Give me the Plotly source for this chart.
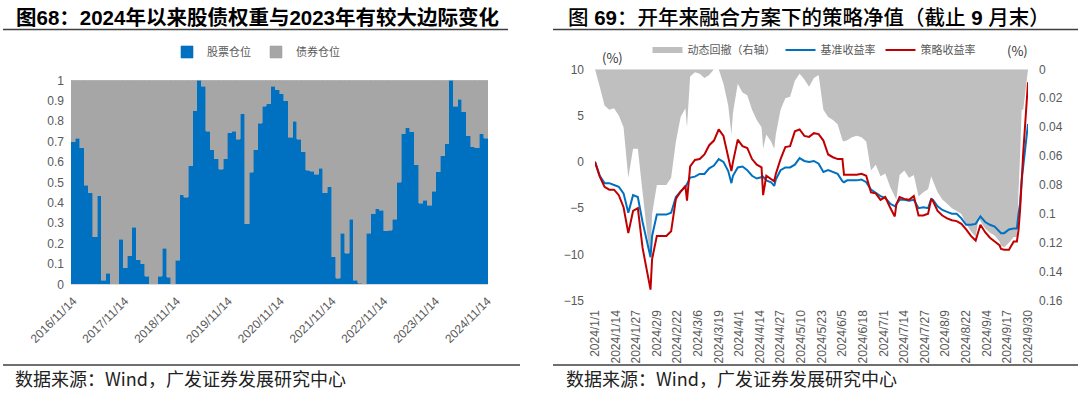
import plotly.graph_objects as go

# ---------------- Left chart data (monthly positions) ----------------
stock_pos = [
    0.70, 0.716, 0.67, 0.485, 0.45, 0.234, 0.435, 0.02, 0.054, 0, 0, 0.22,
    0.08, 0.14, 0.28, 0.12, 0.10, 0.04, 0, 0, 0.04, 0.176, 0.035, 0,
    0.118, 0.44, 0.426, 0.58, 0.85, 1.0, 0.97, 0.75, 0.66, 0.616, 0.564, 0.616,
    0.743, 0.75, 0.71, 0.835, 0.297, 0.55, 0.66, 0.79, 0.874, 0.886, 0.97, 0.953,
    0.935, 0.90, 0.72, 0.80, 0.71, 0.65, 0.56, 0.554, 0.54, 0.57, 0.45, 0.477,
    0.136, 0.03, 0.25, 0.152, 0.32, 0.02, 0.005, 0, 0.25, 0.345, 0.37, 0.364,
    0.263, 0.266, 0.32, 0.50, 0.737, 0.768, 0.747, 0.585, 0.397, 0.413, 0.387, 0.457,
    0.552, 0.63, 0.69, 1.0, 0.874, 0.907, 0.845, 0.727, 0.675, 0.67, 0.737, 0.716,
]
bond_pos = [
    0.30, 0.284, 0.33, 0.515, 0.55, 0.766, 0.565, 0.98, 0.946, 1, 1, 0.78,
    0.92, 0.86, 0.72, 0.88, 0.90, 0.96, 1, 1, 0.96, 0.824, 0.965, 1,
    0.882, 0.56, 0.574, 0.42, 0.15, 0.0, 0.03, 0.25, 0.34, 0.384, 0.436, 0.384,
    0.257, 0.25, 0.29, 0.165, 0.703, 0.45, 0.34, 0.21, 0.126, 0.114, 0.03, 0.047,
    0.065, 0.10, 0.28, 0.20, 0.29, 0.35, 0.44, 0.446, 0.46, 0.43, 0.55, 0.523,
    0.864, 0.97, 0.75, 0.848, 0.68, 0.98, 0.995, 1, 0.75, 0.655, 0.63, 0.636,
    0.737, 0.734, 0.68, 0.50, 0.263, 0.232, 0.253, 0.415, 0.603, 0.587, 0.613, 0.543,
    0.448, 0.37, 0.31, 0.0, 0.126, 0.093, 0.155, 0.273, 0.325, 0.33, 0.263, 0.284,
]
left_tick_labels = ["2016/11/14", "2017/11/14", "2018/11/14", "2019/11/14", "2020/11/14",
                    "2021/11/14", "2022/11/14", "2023/11/14", "2024/11/14"]
left_y_ticks = [0, 0.1, 0.2, 0.3, 0.4, 0.5, 0.6, 0.7, 0.8, 0.9, 1]
left_y_text = ["0", "0.1", "0.2", "0.3", "0.4", "0.5", "0.6", "0.7", "0.8", "0.9", "1"]

# ---------------- Right chart data (2024 YTD) ----------------
dates = [
    "2024-01-01", "2024-01-04", "2024-01-07", "2024-01-10", "2024-01-13", "2024-01-16", "2024-01-19",
    "2024-01-22", "2024-01-25", "2024-01-28", "2024-01-31",
    "2024-02-03", "2024-02-05", "2024-02-06", "2024-02-09", "2024-02-12", "2024-02-15", "2024-02-18",
    "2024-02-21", "2024-02-24", "2024-02-27", "2024-02-28",
    "2024-03-01", "2024-03-04", "2024-03-07", "2024-03-10", "2024-03-13", "2024-03-16", "2024-03-19",
    "2024-03-22", "2024-03-25", "2024-03-27", "2024-03-28", "2024-03-31",
    "2024-04-03", "2024-04-06", "2024-04-09", "2024-04-12", "2024-04-15", "2024-04-16", "2024-04-18",
    "2024-04-21", "2024-04-23", "2024-04-24", "2024-04-27", "2024-04-30",
    "2024-05-03", "2024-05-06", "2024-05-09", "2024-05-12", "2024-05-15", "2024-05-18", "2024-05-21",
    "2024-05-24", "2024-05-27", "2024-05-30",
    "2024-06-02", "2024-06-05", "2024-06-06", "2024-06-08", "2024-06-11", "2024-06-14", "2024-06-17",
    "2024-06-20", "2024-06-23", "2024-06-26", "2024-06-29",
    "2024-07-02", "2024-07-05", "2024-07-08", "2024-07-09", "2024-07-11", "2024-07-14", "2024-07-17",
    "2024-07-20", "2024-07-23", "2024-07-26", "2024-07-29", "2024-07-31",
    "2024-08-01", "2024-08-04", "2024-08-07", "2024-08-10", "2024-08-13", "2024-08-16", "2024-08-19",
    "2024-08-22", "2024-08-25", "2024-08-28", "2024-08-30", "2024-08-31",
    "2024-09-03", "2024-09-06", "2024-09-09", "2024-09-12", "2024-09-13", "2024-09-15", "2024-09-18",
    "2024-09-21", "2024-09-23", "2024-09-24", "2024-09-25", "2024-09-26", "2024-09-27", "2024-09-30",
]
benchmark = [
    0, -1.5, -2.3, -2.3, -2.5, -2.7, -3.4, -5.5, -3.6, -3.8, -6.5,
    -8.6, -10.3, -8.0, -5.7, -5.7, -5.7, -5.5, -3.8, -3.2, -2.7, -2.4,
    -1.7, -1.6, -1.3, -1.3, -0.7, -0.4, 0.3, 0.0, -1.0, -2.3, -1.5, -0.6,
    -0.5, -0.9, -1.5, -1.8, -1.7, -1.6, -2.0, -2.2, -2.6, -1.9, -0.9, -0.6,
    -0.6, -0.3, 0.4, 0.1, 0.0, 0.1, -0.2, -1.1, -0.9, -1.1,
    -1.3, -2.1, -2.2, -2.0, -2.0, -2.0, -1.9, -2.2, -3.0, -3.4, -3.7,
    -3.9, -4.5, -4.8, -4.6, -4.1, -4.1, -4.2, -4.1, -5.0, -4.9, -5.0, -4.0,
    -4.1, -4.8, -5.2, -5.4, -5.6, -5.6, -6.1, -6.8, -6.8, -6.7, -6.2, -5.9,
    -6.5, -6.8, -7.0, -7.5, -7.7, -7.7, -7.3, -7.2, -7.2, -5.6, -4.5, -2.0, -0.3, 4.1,
]
strategy = [
    0, -1.6, -2.7, -3.0, -3.0, -3.6, -4.9, -7.7, -5.3, -5.0, -9.3,
    -12.2, -13.8, -10.5, -8.0, -8.0, -8.0, -7.5, -4.0, -3.2, -2.6, -4.2,
    -0.5, 0.2, 0.3, 0.8, 1.8, 2.3, 3.5, 2.8, 0.5, -1.0, 0.0, 2.4,
    1.7, 1.5, 0.3, -0.3, -0.6, -3.6, -1.5, -1.9, -2.1, -1.3, 0.3, 1.6,
    1.7, 3.3, 3.5, 2.8, 2.7, 3.1, 3.0, 2.3, 0.8, 0.5,
    0.3, 0.3, -1.4, -1.4, -1.4, -1.4, -1.3, -1.5, -3.3, -3.4, -4.1,
    -3.8, -4.9, -5.9, -4.6, -3.8, -4.0, -4.1, -3.7, -5.8, -5.8, -5.6, -4.0,
    -4.2, -5.3, -5.8, -6.1, -6.3, -6.4, -6.7, -7.3, -8.0, -8.5, -7.2, -6.8,
    -7.6, -8.2, -8.6, -9.0, -9.4, -9.5, -9.5, -8.6, -8.6, -7.4, -5.2, -2.0, 1.0, 8.6,
]
drawdown = [
    0, 0.012, 0.025, 0.028, 0.027, 0.032, 0.04, 0.075, 0.055, 0.055, 0.085,
    0.115, 0.13, 0.1, 0.08, 0.08, 0.08, 0.075, 0.05, 0.033, 0.027, 0.04,
    0.005, 0.002, 0.003, 0.006, 0.004, 0.0, 0.0, 0.01, 0.025, 0.045, 0.03, 0.01,
    0.016, 0.018, 0.028, 0.035, 0.04, 0.055, 0.045, 0.05, 0.055, 0.045, 0.028, 0.02,
    0.019, 0.008, 0.003, 0.007, 0.012, 0.006, 0.004, 0.028, 0.033, 0.035,
    0.038, 0.049, 0.05, 0.049, 0.047, 0.046, 0.047, 0.05, 0.07, 0.066, 0.074,
    0.072, 0.081, 0.088, 0.09, 0.073, 0.07, 0.075, 0.073, 0.088, 0.085, 0.083, 0.074,
    0.077, 0.085, 0.09, 0.093, 0.096, 0.098, 0.1, 0.107, 0.112, 0.116, 0.102, 0.105,
    0.11, 0.113, 0.115, 0.119, 0.122, 0.123, 0.12, 0.116, 0.116, 0.085, 0.06, 0.028, 0.028, 0.0,
]
right_tick_vals = [
    "2024-01-01", "2024-01-14", "2024-01-27", "2024-02-09", "2024-02-22", "2024-03-06",
    "2024-03-19", "2024-04-01", "2024-04-14", "2024-04-27", "2024-05-10", "2024-05-23",
    "2024-06-05", "2024-06-18", "2024-07-01", "2024-07-14", "2024-07-27", "2024-08-09",
    "2024-08-22", "2024-09-04", "2024-09-17", "2024-09-30",
]
right_tick_text = [
    "2024/1/1", "2024/1/14", "2024/1/27", "2024/2/9", "2024/2/22", "2024/3/6",
    "2024/3/19", "2024/4/1", "2024/4/14", "2024/4/27", "2024/5/10", "2024/5/23",
    "2024/6/5", "2024/6/18", "2024/7/1", "2024/7/14", "2024/7/27", "2024/8/9",
    "2024/8/22", "2024/9/4", "2024/9/17", "2024/9/30",
]
ret_ticks = [-15, -10, -5, 0, 5, 10]
dd_ticks = [0, 0.02, 0.04, 0.06, 0.08, 0.1, 0.12, 0.14, 0.16]
dd_tick_text = ["0", "0.02", "0.04", "0.06", "0.08", "0.1", "0.12", "0.14", "0.16"]

# ---------------- Figure ----------------
W, H = 1080, 396
def px(x):
    return x / W
def py(y):
    return 1 - y / H

LATIN = "Liberation Sans, Arial, Noto Sans CJK SC"
CJK = "Noto Sans CJK SC, Liberation Sans"
TICK_COLOR = "#595959"

fig = go.Figure()
idx = list(range(len(stock_pos)))
fig.add_trace(go.Bar(x=idx, y=stock_pos, name="股票仓位", xaxis="x", yaxis="y",
                     marker=dict(color="#0070C0", line=dict(width=0.6, color="#0070C0")),
                     legend="legend", hoverinfo="skip"))
fig.add_trace(go.Bar(x=idx, y=bond_pos, name="债券仓位", xaxis="x", yaxis="y",
                     marker=dict(color="#A6A6A6", line=dict(width=0.6, color="#A6A6A6")),
                     legend="legend", hoverinfo="skip"))

fig.add_trace(go.Scatter(x=dates, y=drawdown, name="动态回撤（右轴）", mode="none",
                         fill="tozeroy", fillcolor="#BFBFBF", xaxis="x2", yaxis="y2",
                         legend="legend2", hoverinfo="skip"))
fig.add_trace(go.Scatter(x=dates, y=benchmark, name="基准收益率", mode="lines",
                         line=dict(color="#0070C0", width=2), xaxis="x2", yaxis="y3",
                         legend="legend2", hoverinfo="skip"))
fig.add_trace(go.Scatter(x=dates, y=strategy, name="策略收益率", mode="lines",
                         line=dict(color="#C00000", width=2), xaxis="x2", yaxis="y3",
                         legend="legend2", hoverinfo="skip"))

n = len(stock_pos)
left_tick_pos = [i * (n - 0.6) / (len(left_tick_labels) - 1) for i in range(len(left_tick_labels))]

fig.update_layout(
    width=W, height=H,
    margin=dict(l=0, r=0, t=0, b=0, autoexpand=False),
    paper_bgcolor="white", plot_bgcolor="white",
    barmode="stack", bargap=0,
    font=dict(family=LATIN, color=TICK_COLOR),
    xaxis=dict(domain=[px(71), px(488)], anchor="y", range=[-0.5, n - 0.5],
               tickvals=left_tick_pos, ticktext=left_tick_labels, tickangle=-45,
               tickfont=dict(family=LATIN, size=12, color=TICK_COLOR),
               showgrid=False, zeroline=False, showline=True, linecolor="#D9D9D9",
               ticks="", ticklabelstandoff=4, fixedrange=True, automargin=False),
    yaxis=dict(domain=[py(284.3), py(80.3)], anchor="x", range=[0, 1],
               tickvals=left_y_ticks, ticktext=left_y_text,
               tickfont=dict(family=LATIN, size=12, color=TICK_COLOR),
               showgrid=False, zeroline=False, showline=False, ticks="",
               ticklabelstandoff=6, fixedrange=True, automargin=False),
    xaxis2=dict(domain=[px(595), px(1028)], anchor="y2", type="date",
                range=["2024-01-01", "2024-09-30"],
                tickvals=right_tick_vals, ticktext=right_tick_text, tickangle=-90,
                tickfont=dict(family=LATIN, size=12, color=TICK_COLOR),
                showgrid=False, zeroline=False, showline=False, ticks="",
                ticklabelstandoff=6, fixedrange=True, automargin=False),
    yaxis2=dict(domain=[py(300.7), py(69.3)], anchor="x2", side="right",
                range=[0.16, 0], tickvals=dd_ticks, ticktext=dd_tick_text,
                tickfont=dict(family=LATIN, size=12, color=TICK_COLOR),
                showgrid=False, zeroline=False, showline=False, ticks="",
                ticklabelstandoff=10, fixedrange=True, automargin=False),
    yaxis3=dict(overlaying="y2", anchor="x2", side="left", range=[-15, 10],
                tickvals=ret_ticks,
                tickfont=dict(family=LATIN, size=12, color=TICK_COLOR),
                showgrid=False, zeroline=False, showline=False, ticks="",
                ticklabelstandoff=10, fixedrange=True, automargin=False),
    legend=dict(orientation="h", xref="container", yref="container",
                x=px(256), xanchor="center", y=py(52), yanchor="middle",
                font=dict(family=CJK, size=11, color=TICK_COLOR), traceorder="normal",
                bgcolor="rgba(0,0,0,0)", itemwidth=30, tracegroupgap=0),
    legend2=dict(orientation="h", xref="container", yref="container",
                 x=px(814), xanchor="center", y=py(50), yanchor="middle",
                 font=dict(family=CJK, size=11, color=TICK_COLOR), traceorder="normal",
                 bgcolor="rgba(0,0,0,0)", itemwidth=30),
    showlegend=True,
)

annotations = [
    dict(text="<b>图68：2024年以来股债权重与2023年有较大边际变化</b>", x=px(14), y=py(17),
         xanchor="left", yanchor="middle", font=dict(family=LATIN, size=20.5, color="#000000")),
    dict(text="图 <b>69</b>：开年来融合方案下的策略净值（截止 <b>9</b> 月末）", x=px(566), y=py(17),
         xanchor="left", yanchor="middle",
         font=dict(family=LATIN, size=20.5, color="#000000", weight=500)),
    dict(text="数据来源：Wind，广发证券发展研究中心", x=px(13), y=py(378),
         xanchor="left", yanchor="middle", font=dict(family=CJK, size=18, color="#222222")),
    dict(text="数据来源：Wind，广发证券发展研究中心", x=px(564), y=py(378),
         xanchor="left", yanchor="middle", font=dict(family=CJK, size=18, color="#222222")),
    dict(text="(%)", x=px(613), y=py(58), xanchor="center", yanchor="middle",
         font=dict(family=CJK, size=13, color="#333333")),
    dict(text="(%)", x=px(1017), y=py(50), xanchor="center", yanchor="middle",
         font=dict(family=CJK, size=13, color="#333333")),
]
for a in annotations:
    a.update(xref="paper", yref="paper", showarrow=False)
fig.update_layout(annotations=annotations)

line_style = dict(color="#3F3F3F", width=1.5)
shapes = [
    dict(type="line", x0=px(3), x1=px(508), y0=py(29.5), y1=py(29.5), line=line_style),
    dict(type="line", x0=px(553), x1=px(1078), y0=py(29.5), y1=py(29.5), line=line_style),
    dict(type="line", x0=px(3), x1=px(520), y0=py(365), y1=py(365), line=line_style),
    dict(type="line", x0=px(553), x1=px(1078), y0=py(365), y1=py(365), line=line_style),
]
for s in shapes:
    s.update(xref="paper", yref="paper")
fig.update_layout(shapes=shapes)

fig.write_html("out.html",
               config={"displayModeBar": False, "staticPlot": True},
               post_script="document.body.style.margin='0';document.body.style.overflow='hidden';")
